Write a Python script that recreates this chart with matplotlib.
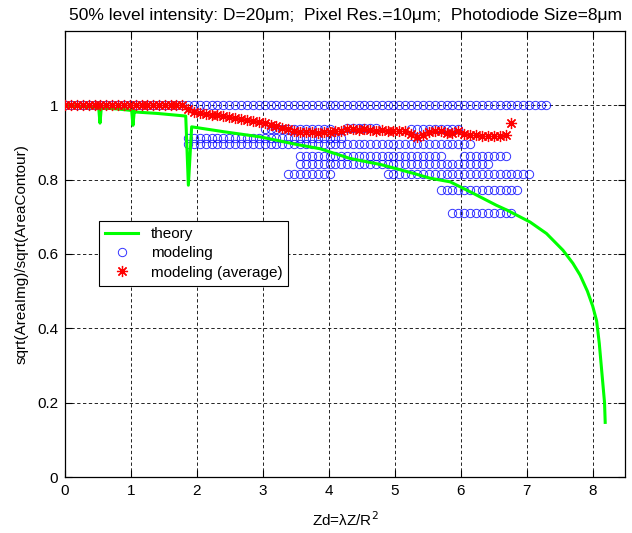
import numpy as np
import matplotlib
matplotlib.use("Agg")
import matplotlib.pyplot as plt

plt.rcParams['font.family'] = ['Liberation Sans', 'DejaVu Sans']

# Zd sample positions of the modeling runs
zd = [0.00, 0.09, 0.18, 0.27, 0.36, 0.45, 0.53, 0.62, 0.71, 0.80,
      0.89, 0.98, 1.07, 1.16, 1.25, 1.34, 1.42, 1.51, 1.60, 1.69,
      1.78, 1.87, 1.96, 2.05, 2.14, 2.23, 2.31, 2.40, 2.49, 2.58,
      2.67, 2.76, 2.85, 2.94, 3.03, 3.12, 3.20, 3.29, 3.38, 3.47,
      3.56, 3.65, 3.74, 3.83, 3.92, 4.01, 4.09, 4.18, 4.27, 4.36,
      4.45, 4.54, 4.63, 4.72, 4.81, 4.90, 4.98, 5.07, 5.16, 5.25,
      5.34, 5.43, 5.52, 5.61, 5.70, 5.79, 5.87, 5.96, 6.05, 6.14,
      6.23, 6.32, 6.41, 6.50, 6.59, 6.68, 6.76, 6.85, 6.94, 7.03,
      7.12, 7.21, 7.30]

# modeling results: each ratio level and the run index range where it shows up
level_ratio = [1.0, 0.912, 0.897, 0.935, 0.940, 0.935, 0.863, 0.863,
               0.843, 0.815, 0.815, 0.771, 0.709]
level_first = [0, 21, 21, 34, 48, 59, 40, 68, 40, 38, 55, 64, 66]
level_last = [82, 47, 69, 45, 53, 67, 64, 75, 72, 45, 79, 77, 76]

# averaged modeling ratio, one value per run (runs 0..76)
avg_ratio = [1.0, 1.0, 1.0, 1.0, 1.0, 1.0, 1.0, 1.0, 1.0, 1.0,
             1.0, 1.0, 1.0, 1.0, 1.0, 1.0, 1.0, 1.0, 1.0, 1.0,
             1.0, 0.99, 0.982, 0.978, 0.976, 0.975, 0.973, 0.971, 0.968, 0.965,
             0.962, 0.960, 0.958, 0.956, 0.953, 0.948, 0.944, 0.940, 0.935, 0.932,
             0.928, 0.927, 0.928, 0.926, 0.927, 0.929, 0.930, 0.932, 0.936, 0.935,
             0.934, 0.936, 0.934, 0.932, 0.933, 0.931, 0.930, 0.932, 0.930, 0.922,
             0.915, 0.920, 0.928, 0.932, 0.930, 0.926, 0.925, 0.932, 0.922, 0.920,
             0.921, 0.918, 0.917, 0.916, 0.918, 0.920, 0.952]

# theoretical curve
theory_zd = [0.00, 0.30, 0.51, 0.53, 0.55, 0.80, 1.01, 1.03, 1.05, 1.06,
             1.40, 1.83, 1.87, 1.92, 2.40, 2.96, 3.50, 3.87, 4.32, 4.80,
             5.30, 5.53, 5.84, 6.19, 6.54, 6.70, 7.05, 7.30, 7.55, 7.70,
             7.81, 7.92, 8.00, 8.06, 8.10, 8.13, 8.16, 8.18, 8.19]
theory_ratio = [1.000, 0.996, 0.994, 0.952, 0.993, 0.990, 0.986, 0.946, 0.984, 0.982,
                0.978, 0.971, 0.785, 0.942, 0.929, 0.915, 0.895, 0.883, 0.857, 0.840,
                0.816, 0.804, 0.794, 0.763, 0.731, 0.718, 0.686, 0.655, 0.610, 0.575,
                0.543, 0.500, 0.460, 0.420, 0.360, 0.300, 0.240, 0.200, 0.147]

fig = plt.figure(figsize=(6.32, 5.33), dpi=100)
ax = fig.add_axes([0.1029, 0.105, 0.886, 0.837])

h_theory, = ax.plot(theory_zd, theory_ratio, color=(0, 1, 0), lw=2.2,
                    label="theory", zorder=3)

zd = np.array(zd)
h_model = None
for lv, i0, i1 in zip(level_ratio, level_first, level_last):
    xs = zd[i0:i1 + 1]
    h_model, = ax.plot(xs, np.full(len(xs), lv), 'o', ms=6, mfc='none',
                       mec=(0, 0, 1), mew=0.7, alpha=0.8, label="modeling", zorder=2)

# asterisk marker like the '*' of the original plotting tool
h_avg, = ax.plot(zd[:len(avg_ratio)], avg_ratio, marker=(8, 2, 0), ls='none',
                 ms=8, color=(1, 0, 0), mew=0.9, label="modeling (average)", zorder=4)

ax.set_xlim(0, 8.49)
ax.set_ylim(0, 1.2)
ax.set_xticks(range(0, 9))
ax.set_xticklabels([str(i) for i in range(0, 9)])
ax.set_yticks([0, 0.2, 0.4, 0.6, 0.8, 1.0])
ax.set_yticklabels(["0", "0.2", "0.4", "0.6", "0.8", "1"])
ax.tick_params(direction='in', top=True, right=True, length=5, width=0.8,
               labelsize=11, pad=5)
ax.grid(True, color='black', lw=0.6, linestyle=(0, (4, 3)))
for s in ax.spines.values():
    s.set_linewidth(0.9)

ax.set_title("50% level intensity: D=20\u03bcm;  Pixel Res.=10\u03bcm;  Photodiode Size=8\u03bcm",
             fontsize=12.5, pad=8)
ax.set_xlabel("Zd=\u03bbZ/R$^2$", fontsize=11, labelpad=9)
ax.set_ylabel("sqrt(AreaImg)/sqrt(AreaContour)", fontsize=11, labelpad=6)

leg = ax.legend([h_theory, h_model, h_avg],
                ["theory", "modeling", "modeling (average)"],
                loc='upper left', bbox_to_anchor=(0.06, 0.574), borderaxespad=0,
                fontsize=11, frameon=True, fancybox=False, framealpha=1,
                edgecolor='black', handlelength=2.2, borderpad=0.4,
                labelspacing=0.35)
leg.get_frame().set_linewidth(0.8)

fig.savefig("out.png", dpi=100)
